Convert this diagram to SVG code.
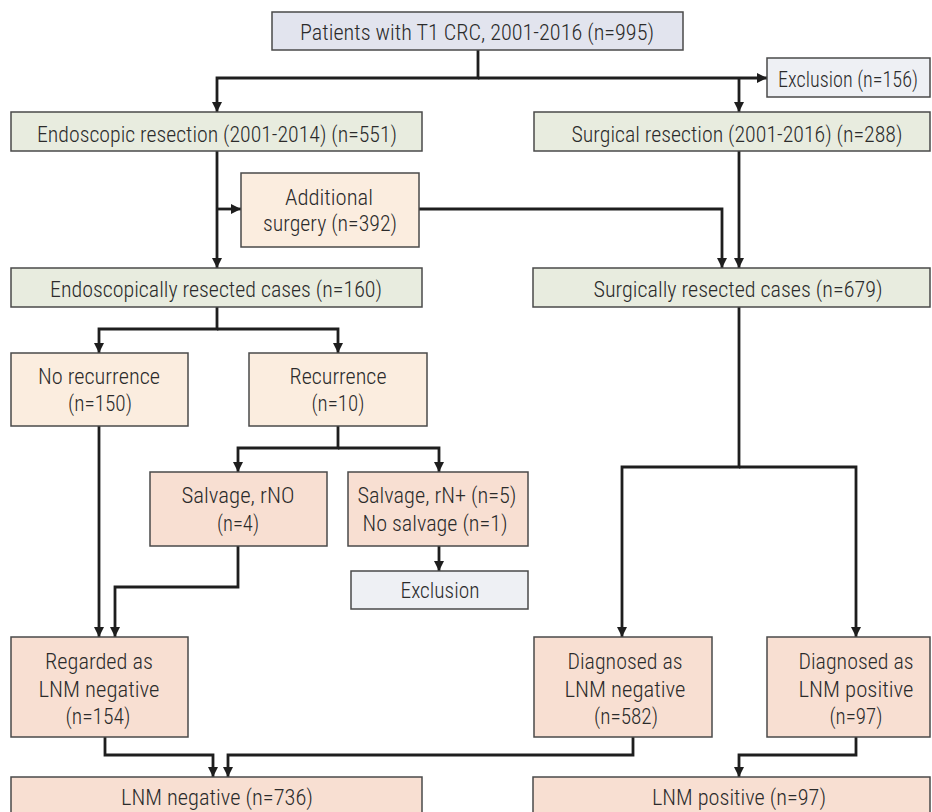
<svg xmlns="http://www.w3.org/2000/svg" width="932" height="812" viewBox="0 0 932 812">
<defs>
<style>
.b{stroke:#4a4a4a;stroke-width:1.5}
.lav{fill:#e2e4ee}.gry{fill:#eef0f4}.grn{fill:#e8ecdf}.pch{fill:#fbeddf}.sal{fill:#f8dfd2}
text{font-family:"Roboto Condensed","Liberation Sans Narrow","DejaVu Sans Condensed","Liberation Sans",sans-serif;font-weight:300;font-size:22px;fill:#2b2b2b;text-anchor:middle}
.c path{fill:none;stroke:#1e1e1e;stroke-width:2.8}
</style>
<marker id="a" markerUnits="userSpaceOnUse" markerWidth="11" markerHeight="10" refX="10" refY="5" orient="auto" viewBox="0 0 10 10">
<path d="M0,0 L10,5 L0,10 z" fill="#1e1e1e"/>
</marker>
</defs>
<rect width="932" height="812" fill="#fff"/>
<g class="c">
<path d="M478,50 V78 H217 V112" marker-end="url(#a)"/>
<path d="M478,78 H767" marker-end="url(#a)"/>
<path d="M739,78 V112" marker-end="url(#a)"/>
<path d="M217,151 V268" marker-end="url(#a)"/>
<path d="M217,209 H241" marker-end="url(#a)"/>
<path d="M419,209 H722 V268" marker-end="url(#a)"/>
<path d="M739,151 V268" marker-end="url(#a)"/>
<path d="M217,307 V329 H99 V353" marker-end="url(#a)"/>
<path d="M217,329 H338 V353" marker-end="url(#a)"/>
<path d="M338,426 V448 H238 V472" marker-end="url(#a)"/>
<path d="M338,448 H439 V472" marker-end="url(#a)"/>
<path d="M99,426 V637" marker-end="url(#a)"/>
<path d="M238,546 V587 H115 V637" marker-end="url(#a)"/>
<path d="M439,546 V571" marker-end="url(#a)"/>
<path d="M739,307 V467 H622 V637" marker-end="url(#a)"/>
<path d="M739,467 H856 V637" marker-end="url(#a)"/>
<path d="M105,737 V755 H213 V777" marker-end="url(#a)"/>
<path d="M633,737 V755 H228 V777" marker-end="url(#a)"/>
<path d="M856,737 V755 H739 V777" marker-end="url(#a)"/>
</g>
<g id="patients"><rect class="b lav" x="272" y="12" width="411" height="38"/><text x="477" y="40" textLength="354" lengthAdjust="spacingAndGlyphs">Patients with T1 CRC, 2001-2016 (n=995)</text></g>
<g id="exclusion156"><rect class="b gry" x="767" y="58" width="163" height="39"/><text x="848" y="87" textLength="140" lengthAdjust="spacingAndGlyphs">Exclusion (n=156)</text></g>
<g id="endoscopic"><rect class="b grn" x="11" y="112" width="411" height="39"/><text x="217" y="142" textLength="360" lengthAdjust="spacingAndGlyphs">Endoscopic resection (2001-2014) (n=551)</text></g>
<g id="surgical"><rect class="b grn" x="534" y="112" width="396" height="39"/><text x="737" y="142" textLength="331" lengthAdjust="spacingAndGlyphs">Surgical resection (2001-2016) (n=288)</text></g>
<g id="additional"><rect class="b pch" x="241" y="173" width="178" height="74"/><text x="329" y="205" textLength="88" lengthAdjust="spacingAndGlyphs">Additional</text><text x="330" y="231" textLength="134" lengthAdjust="spacingAndGlyphs">surgery (n=392)</text></g>
<g id="endocases"><rect class="b grn" x="11" y="268" width="411" height="39"/><text x="216" y="297" textLength="332" lengthAdjust="spacingAndGlyphs">Endoscopically resected cases (n=160)</text></g>
<g id="surgcases"><rect class="b grn" x="533" y="268" width="397" height="39"/><text x="738" y="297" textLength="289" lengthAdjust="spacingAndGlyphs">Surgically resected cases (n=679)</text></g>
<g id="norecurrence"><rect class="b pch" x="11" y="353" width="177" height="73"/><text x="99" y="384" textLength="122" lengthAdjust="spacingAndGlyphs">No recurrence</text><text x="100" y="411" textLength="64" lengthAdjust="spacingAndGlyphs">(n=150)</text></g>
<g id="recurrence"><rect class="b pch" x="249" y="353" width="178" height="73"/><text x="338" y="384" textLength="97" lengthAdjust="spacingAndGlyphs">Recurrence</text><text x="338" y="411" textLength="53" lengthAdjust="spacingAndGlyphs">(n=10)</text></g>
<g id="salvageN0"><rect class="b sal" x="150" y="472" width="177" height="74"/><text x="238" y="503" textLength="113" lengthAdjust="spacingAndGlyphs">Salvage, rNO</text><text x="238" y="531" textLength="42" lengthAdjust="spacingAndGlyphs">(n=4)</text></g>
<g id="salvageNplus"><rect class="b sal" x="348" y="472" width="180" height="74"/><text x="437" y="503" textLength="159" lengthAdjust="spacingAndGlyphs">Salvage, rN+ (n=5)</text><text x="435" y="531" textLength="145" lengthAdjust="spacingAndGlyphs">No salvage (n=1)</text></g>
<g id="exclusion"><rect class="b gry" x="351" y="571" width="177" height="38"/><text x="440" y="598" textLength="79" lengthAdjust="spacingAndGlyphs">Exclusion</text></g>
<g id="regarded"><rect class="b sal" x="11" y="637" width="177" height="100"/><text x="99" y="669" textLength="108" lengthAdjust="spacingAndGlyphs">Regarded as</text><text x="99" y="697" textLength="121" lengthAdjust="spacingAndGlyphs">LNM negative</text><text x="98" y="724" textLength="65" lengthAdjust="spacingAndGlyphs">(n=154)</text></g>
<g id="diagneg"><rect class="b sal" x="534" y="637" width="178" height="100"/><text x="625" y="669" textLength="115" lengthAdjust="spacingAndGlyphs">Diagnosed as</text><text x="625" y="697" textLength="121" lengthAdjust="spacingAndGlyphs">LNM negative</text><text x="626" y="724" textLength="64" lengthAdjust="spacingAndGlyphs">(n=582)</text></g>
<g id="diagpos"><rect class="b sal" x="767" y="637" width="163" height="100"/><text x="856" y="669" textLength="115" lengthAdjust="spacingAndGlyphs">Diagnosed as</text><text x="856" y="697" textLength="115" lengthAdjust="spacingAndGlyphs">LNM positive</text><text x="856" y="724" textLength="53" lengthAdjust="spacingAndGlyphs">(n=97)</text></g>
<g id="lnmneg"><rect class="b sal" x="11" y="777" width="411" height="45"/><text x="217" y="805" textLength="192" lengthAdjust="spacingAndGlyphs">LNM negative (n=736)</text></g>
<g id="lnmpos"><rect class="b sal" x="533" y="777" width="397" height="45"/><text x="739" y="805" textLength="174" lengthAdjust="spacingAndGlyphs">LNM positive (n=97)</text></g>
</svg>
